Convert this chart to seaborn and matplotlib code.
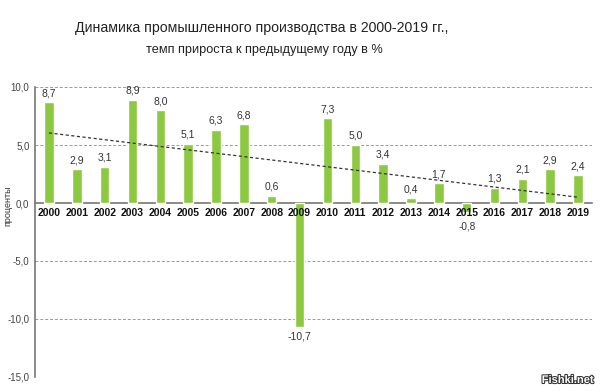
import numpy as np
import pandas as pd
import matplotlib
matplotlib.use("Agg")
import matplotlib.pyplot as plt
import matplotlib.patheffects as pe
import seaborn as sns

years = [str(y) for y in range(2000, 2020)]
values = [8.7, 2.9, 3.1, 8.9, 8.0, 5.1, 6.3, 6.8, 0.6, -10.7,
          7.3, 5.0, 3.4, 0.4, 1.7, -0.8, 1.3, 2.1, 2.9, 2.4]
yticks = [-15, -10, -5, 0, 5, 10]
title1 = "Динамика промышленного производства в 2000-2019 гг.,"
title2 = "темп прироста к предыдущему году в %"
ylabel = "проценты"

sns.set_theme(style="white")
plt.rcParams['font.family'] = ['Liberation Sans', 'DejaVu Sans']

df = pd.DataFrame({"year": years, "value": values})

fig = plt.figure(figsize=(6, 3.91), dpi=100)
fig.patch.set_facecolor("white")
ax = fig.add_axes([35/600, 1 - 377/391, (592 - 35)/600, (377 - 87)/391])

green = "#8dc841"
sns.barplot(data=df, x="year", y="value", color=green, width=0.34,
            saturation=1, ax=ax, zorder=3)

# trend line
xs = np.arange(len(values))
k, b = np.polyfit(xs, values, 1)
ax.plot(xs, k * xs + b, ls=(0, (2.5, 2)), color="#333333", lw=0.9, zorder=4)

ax.set_xlim(-0.5, len(values) - 0.5)
ax.set_ylim(-15, 10)
ax.set_yticks(yticks)
ax.set_yticklabels([f"{t:.1f}".replace(".", ",") for t in yticks],
                   fontsize=7, color="#444444")
for t in yticks:
    if t != 0:
        ax.axhline(t, color="#999999", lw=0.7, ls=(0, (3, 2)), zorder=1)

for s in ["top", "right"]:
    ax.spines[s].set_visible(False)
ax.spines["left"].set_color("#777777")
ax.spines["left"].set_linewidth(1.2)
ax.spines["bottom"].set_position(("data", 0))
ax.spines["bottom"].set_color("#777777")
ax.spines["bottom"].set_linewidth(1.2)
ax.spines["bottom"].set_zorder(2)
ax.tick_params(axis="x", length=0)
ax.tick_params(axis="y", length=0, pad=4)
ax.set_xticks(xs)
ax.set_xticklabels([])
ax.set_xlabel("")
ax.set_ylabel("")

for i, y in enumerate(years):
    ax.annotate(y, (i, 0), xytext=(0, -3.5), textcoords="offset points",
                ha="center", va="top", fontsize=7.5, fontweight="bold",
                color="#111111", zorder=6)

for i, v in enumerate(values):
    lab = f"{v:.1f}".replace(".", ",")
    if v >= 0:
        ax.text(i, v + 0.35, lab, ha="center", va="bottom", fontsize=7.5, color="#333333", zorder=6)
    elif v > -2:
        ax.annotate(lab, (i, 0), xytext=(0, -13.5), textcoords="offset points",
                    ha="center", va="top", fontsize=7.2, color="#333333", zorder=6)
    else:
        ax.text(i, v - 0.35, lab, ha="center", va="top", fontsize=7.5, color="#333333", zorder=6)

fig.text(8/600, 1 - 206/391, ylabel, rotation=90, ha="center", va="center",
         fontsize=6.5, color="#333333")
fig.text(262/600, 1 - 28/391, title1, ha="center", va="center", fontsize=10.2, color="#222222")
fig.text(264/600, 1 - 50/391, title2, ha="center", va="center", fontsize=9.2, color="#222222")
fig.text(594/600, 1 - 380/391, "Fishki.net", ha="right", va="center", fontsize=8,
         fontweight="bold", color="white",
         path_effects=[pe.withStroke(linewidth=1.5, foreground="#333333")])

fig.savefig("out.png", dpi=100, facecolor="white")
